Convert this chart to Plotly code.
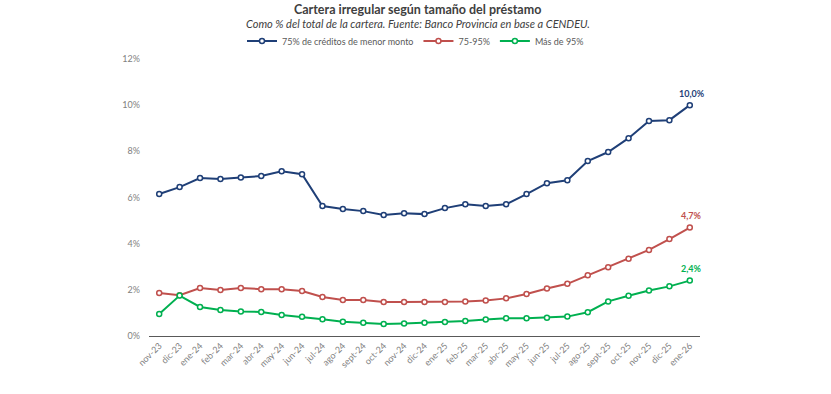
import plotly.graph_objects as go

meses = ["nov-23","dic-23","ene-24","feb-24","mar-24","abr-24","may-24","jun-24","jul-24","ago-24",
         "sept-24","oct-24","nov-24","dic-24","ene-25","feb-25","mar-25","abr-25","may-25","jun-25",
         "jul-25","ago-25","sept-25","oct-25","nov-25","dic-25","ene-26"]

menor_monto = [6.15,6.45,6.84,6.80,6.87,6.93,7.14,7.01,5.63,5.50,5.41,5.24,5.32,5.28,5.54,5.71,5.63,5.71,
               6.15,6.62,6.75,7.58,7.97,8.57,9.31,9.35,10.0]
rango_75_95 = [1.86,1.77,2.08,1.99,2.08,2.03,2.03,1.95,1.69,1.56,1.56,1.47,1.47,1.47,1.47,1.50,1.54,1.63,
               1.82,2.06,2.26,2.63,2.98,3.35,3.73,4.20,4.70]
mas_de_95 = [0.95,1.75,1.26,1.13,1.06,1.04,0.91,0.83,0.73,0.62,0.57,0.52,0.54,0.57,0.61,0.65,0.72,0.77,
             0.77,0.79,0.84,1.03,1.50,1.74,1.97,2.15,2.40]

series_names = ["75% de créditos de menor monto", "75-95%", "Más de 95%"]
colors = ["#1F3F77", "#C0504D", "#00B050"]
y_ticks = [0, 2, 4, 6, 8, 10, 12]
y_ticktext = ["0%", "2%", "4%", "6%", "8%", "10%", "12%"]

FONT = "Lato, Carlito, 'Liberation Sans', sans-serif"
TICK_GREY = "#7F7F7F"

fig = go.Figure()
for name, vals, c in zip(series_names, [menor_monto, rango_75_95, mas_de_95], colors):
    fig.add_trace(go.Scatter(
        x=meses, y=vals, name=name, mode="lines+markers",
        line=dict(color=c, width=2),
        marker=dict(symbol="circle", size=5, color="white", line=dict(color=c, width=1.5)),
    ))
    fig.add_annotation(x=meses[-1], y=vals[-1], text=f"{vals[-1]:.1f}%".replace(".", ","),
                       showarrow=False, yshift=12, xshift=2,
                       font=dict(family=FONT, size=9, color=c, weight="bold"))

PLOT_TOP, PLOT_BOTTOM = 59, 336
def ypix(p):
    return (PLOT_BOTTOM - p) / (PLOT_BOTTOM - PLOT_TOP)

fig.add_annotation(xref="paper", yref="paper", x=0.488, y=ypix(10), xanchor="center", yanchor="middle",
                   text="<b>Cartera irregular según tamaño del préstamo</b>", showarrow=False,
                   font=dict(family=FONT, size=12.5, color="#404040"))
fig.add_annotation(xref="paper", yref="paper", x=0.488, y=ypix(24), xanchor="center", yanchor="middle",
                   text="<i>Como % del total de la cartera. Fuente: Banco Provincia en base a CENDEU.</i>",
                   showarrow=False, font=dict(family=FONT, size=11, color="#404040"))

fig.update_layout(
    width=831, height=394,
    margin=dict(l=149, r=131, t=PLOT_TOP, b=394 - PLOT_BOTTOM, autoexpand=False),
    paper_bgcolor="white", plot_bgcolor="white",
    font=dict(family=FONT, size=9, color="#595959"),
    legend=dict(orientation="h", x=0.5, xanchor="center", xref="container",
                y=1 - 41 / 394, yanchor="middle", yref="container",
                font=dict(family=FONT, size=9, color="#595959"), itemwidth=30,
                bgcolor="rgba(0,0,0,0)"),
    showlegend=True,
)
fig.update_xaxes(range=[-0.5, 26.5], showgrid=False, showline=True, linecolor="#595959", linewidth=1,
                 tickangle=-45, ticks="", tickfont=dict(size=9, color=TICK_GREY), zeroline=False,
                 automargin=False)
fig.update_yaxes(range=[0, 12], tickvals=y_ticks, ticktext=y_ticktext, showgrid=False, showline=False,
                 zeroline=False, ticks="", tickfont=dict(size=9, color=TICK_GREY), ticklabelstandoff=8,
                 automargin=False)

fig.write_html("out.html", config={"displayModeBar": False},
               post_script="document.body.style.margin='0';")
